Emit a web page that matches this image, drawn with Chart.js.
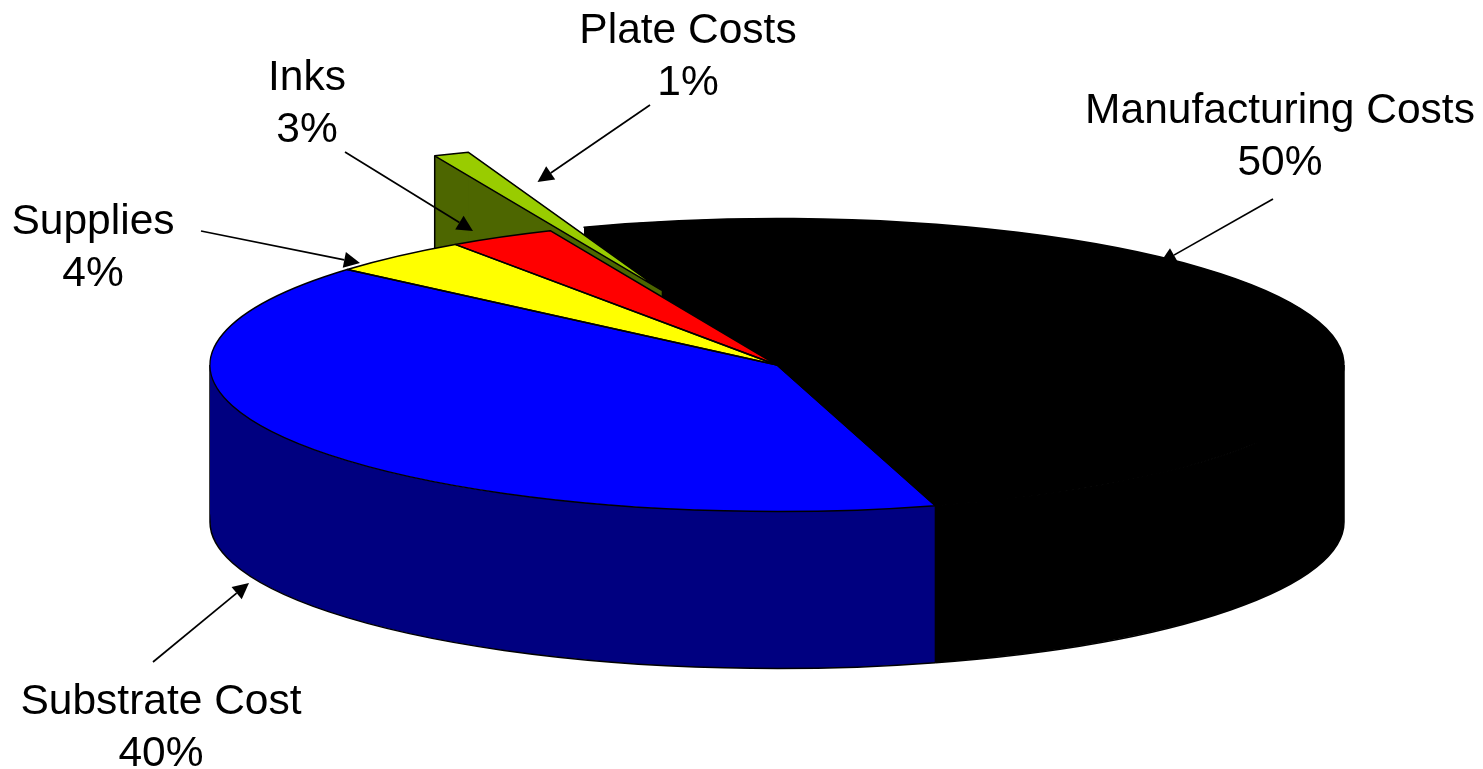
<!DOCTYPE html>
<html>
<head>
<meta charset="utf-8">
<title>Cost breakdown</title>
<script src="https://cdn.jsdelivr.net/npm/chart.js@4"></script>
<style>
    body { margin: 0; background: #fff; }
    canvas { display: block; }
</style>
</head>
<body>
<canvas id="costChart" width="1483" height="769"></canvas>
<script>
// Cost shares, in percent
const categories = ['Manufacturing Costs', 'Substrate Cost', 'Supplies', 'Inks', 'Plate Costs'];
const values = [50, 40, 4, 3, 1];

// Face colours and the darker colours of the side walls
const topColors = ['#000000', '#0000FF', '#FFFF00', '#FF0000', '#99CC00'];
const sideColors = ['#000000', '#000080', '#808000', '#800000', '#4D6600'];

// How far each slice is pulled out of the pie
const explode = [0, 0, 0, 0, 312];

// Centre of each label block, first baseline
const labelX = [1280, 161, 93, 307, 688];
const labelY = [123, 714, 234, 90, 43];

// Leader arrows: [fromX, fromY, tipX, tipY]
const arrows = [
    [1273, 199, 1160, 263],
    [153, 662, 249, 583],
    [201, 231, 360, 263],
    [345, 152, 473, 231],
    [650, 105, 537.5, 182]
];

const RADIUS = 567;
const TILT = 146.5 / 567;   // vertical squash of the pie
const DEPTH = 157;          // height of the side wall
const START_ANGLE = -19.9;
const LINE_WIDTH = 1.5;
const FONT = '42.5px "Liberation Sans", Arial, sans-serif';
const LINE_HEIGHT = 52;

// Where an arc centre ends up once the tilt is applied
function tiltedCentre(chart, arc) {
    const midY = (chart.chartArea.top + chart.chartArea.bottom) / 2;
    return { x: arc.x, y: midY + (arc.y - midY) * TILT };
}

function rimPoint(c, angle) {
    return {
        x: c.x + Math.cos(angle) * RADIUS,
        y: c.y + Math.sin(angle) * RADIUS * TILT
    };
}

// One flat cut face of a slice, from the centre out to the rim
function fillRadialWall(ctx, c, angle) {
    const rim = rimPoint(c, angle);
    ctx.beginPath();
    ctx.moveTo(c.x, c.y);
    ctx.lineTo(rim.x, rim.y);
    ctx.lineTo(rim.x, rim.y + DEPTH);
    ctx.lineTo(c.x, c.y + DEPTH);
    ctx.closePath();
    ctx.fill();
}

function strokeVertical(ctx, c, angle) {
    const rim = rimPoint(c, angle);
    ctx.beginPath();
    ctx.moveTo(rim.x, rim.y);
    ctx.lineTo(rim.x, rim.y + DEPTH);
    ctx.stroke();
}

// Curved outside wall; split where it turns from back to front,
// only the front part gets a bottom outline
function drawRimWall(ctx, c, start, end) {
    const ry = RADIUS * TILT;
    const cuts = [start];
    for (let k = Math.ceil(start / Math.PI); k * Math.PI < end; k++) {
        cuts.push(k * Math.PI);
    }
    cuts.push(end);
    for (let i = 0; i < cuts.length - 1; i++) {
        const from = cuts[i];
        const to = cuts[i + 1];
        ctx.beginPath();
        ctx.ellipse(c.x, c.y, RADIUS, ry, 0, from, to);
        ctx.ellipse(c.x, c.y + DEPTH, RADIUS, ry, 0, to, from, true);
        ctx.closePath();
        ctx.fill();
        if (Math.sin((from + to) / 2) > 0) {
            ctx.beginPath();
            ctx.ellipse(c.x, c.y + DEPTH, RADIUS, ry, 0, from, to);
            ctx.stroke();
            strokeVertical(ctx, c, from);
            strokeVertical(ctx, c, to);
        }
    }
}

function drawArrow(ctx, a) {
    const angle = Math.atan2(a[3] - a[1], a[2] - a[0]);
    const headLength = 16;
    const headHalf = 8;
    const baseX = a[2] - Math.cos(angle) * headLength;
    const baseY = a[3] - Math.sin(angle) * headLength;
    ctx.strokeStyle = '#000';
    ctx.fillStyle = '#000';
    ctx.lineWidth = 1.7;
    ctx.beginPath();
    ctx.moveTo(a[0], a[1]);
    ctx.lineTo(baseX, baseY);
    ctx.stroke();
    ctx.beginPath();
    ctx.moveTo(a[2], a[3]);
    ctx.lineTo(baseX - Math.sin(angle) * headHalf, baseY + Math.cos(angle) * headHalf);
    ctx.lineTo(baseX + Math.sin(angle) * headHalf, baseY - Math.cos(angle) * headHalf);
    ctx.closePath();
    ctx.fill();
}

const pie3d = {
    id: 'pie3d',
    // Move the exploded slices along their middle angle
    afterDatasetsUpdate(chart) {
        chart.getDatasetMeta(0).data.forEach((arc, i) => {
            const mid = (arc.startAngle + arc.endAngle) / 2;
            arc.x += Math.cos(mid) * explode[i];
            arc.y += Math.sin(mid) * explode[i];
        });
    },
    // Side walls go underneath the faces: cut faces first, then the rim,
    // and pulled out slices last so they sit on top of what is behind them
    beforeDatasetsDraw(chart) {
        const ctx = chart.ctx;
        const arcs = chart.getDatasetMeta(0).data;
        ctx.save();
        ctx.lineWidth = LINE_WIDTH;
        ctx.strokeStyle = '#000';
        ctx.lineJoin = 'round';
        arcs.forEach((arc, i) => {
            if (explode[i]) return;
            const c = tiltedCentre(chart, arc);
            ctx.fillStyle = sideColors[i];
            fillRadialWall(ctx, c, arc.startAngle);
            fillRadialWall(ctx, c, arc.endAngle);
        });
        arcs.forEach((arc, i) => {
            if (explode[i]) return;
            ctx.fillStyle = sideColors[i];
            drawRimWall(ctx, tiltedCentre(chart, arc), arc.startAngle, arc.endAngle);
        });
        arcs.forEach((arc, i) => {
            if (!explode[i]) return;
            const c = tiltedCentre(chart, arc);
            ctx.fillStyle = sideColors[i];
            fillRadialWall(ctx, c, arc.startAngle);
            fillRadialWall(ctx, c, arc.endAngle);
            drawRimWall(ctx, c, arc.startAngle, arc.endAngle);
            strokeVertical(ctx, c, arc.startAngle);
        });
        ctx.restore();
    },
    // Squash the round pie into an ellipse
    beforeDatasetDraw(chart) {
        const ctx = chart.ctx;
        const midX = (chart.chartArea.left + chart.chartArea.right) / 2;
        const midY = (chart.chartArea.top + chart.chartArea.bottom) / 2;
        ctx.save();
        ctx.translate(midX, midY);
        ctx.scale(1, TILT);
        ctx.translate(-midX, -midY);
    },
    afterDatasetDraw(chart) {
        chart.ctx.restore();
    },
    afterDatasetsDraw(chart) {
        const ctx = chart.ctx;
        ctx.save();
        ctx.lineWidth = LINE_WIDTH;
        ctx.strokeStyle = '#000';
        ctx.lineJoin = 'round';
        // Outlines are stroked untilted so the line weight stays even
        chart.getDatasetMeta(0).data.forEach(arc => {
            const c = tiltedCentre(chart, arc);
            ctx.beginPath();
            ctx.moveTo(c.x, c.y);
            ctx.ellipse(c.x, c.y, RADIUS, RADIUS * TILT, 0, arc.startAngle, arc.endAngle);
            ctx.closePath();
            ctx.stroke();
        });
        arrows.forEach(a => drawArrow(ctx, a));

        ctx.font = FONT;
        ctx.fillStyle = '#000';
        ctx.textAlign = 'center';
        ctx.textBaseline = 'alphabetic';
        categories.forEach((name, i) => {
            ctx.fillText(name, labelX[i], labelY[i]);
            ctx.fillText(values[i] + '%', labelX[i], labelY[i] + LINE_HEIGHT);
        });
        ctx.restore();
    }
};

new Chart(document.getElementById('costChart'), {
    type: 'pie',
    data: {
        labels: categories,
        datasets: [{
            data: values,
            backgroundColor: topColors,
            borderWidth: 0,
            clip: false
        }]
    },
    options: {
        responsive: false,
        animation: false,
        events: [],
        rotation: START_ANGLE,
        radius: RADIUS,
        layout: { padding: { left: 71, bottom: 39 } },
        plugins: {
            legend: { display: false },
            tooltip: { enabled: false }
        }
    },
    plugins: [pie3d]
});
</script>
</body>
</html>
